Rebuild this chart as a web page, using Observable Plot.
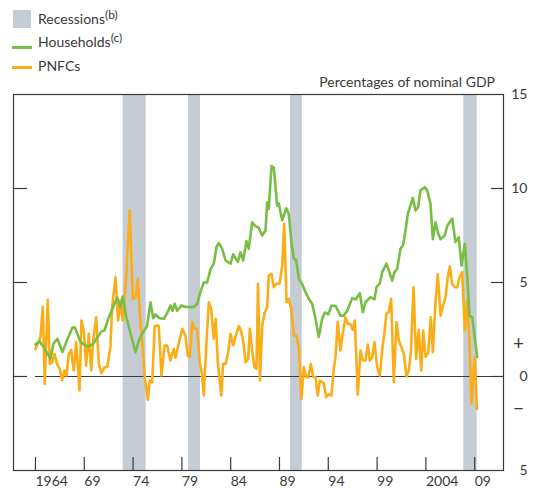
<!DOCTYPE html>
<html><head><meta charset="utf-8">
<script src="https://cdn.jsdelivr.net/npm/d3@7"></script>
<script src="https://cdn.jsdelivr.net/npm/@observablehq/plot@0.6"></script>
<style>
body{margin:0;background:#fff;font-family:Lato,sans-serif;}
#wrap{position:relative;width:533px;height:490px;}
#wrap svg{position:absolute;left:0;top:0;}
.lg{position:absolute;font-size:14px;line-height:16.8px;color:#3a3a3a;white-space:nowrap;}
.lg sup{font-size:12px;vertical-align:5px;line-height:0;}
.sw{position:absolute;}
</style></head><body>
<div id="wrap">
  <div class="sw" style="left:13px;top:10px;width:18px;height:18px;background:#c5ccd3"></div>
  <div class="lg" style="left:38px;top:11px">Recessions<sup>(b)</sup></div>
  <div class="sw" style="left:12px;top:45.5px;width:20px;height:3px;background:#78be43"></div>
  <div class="lg" style="left:38px;top:34px">Households<sup>(c)</sup></div>
  <div class="sw" style="left:12px;top:66px;width:20px;height:3px;background:#fbad18"></div>
  <div class="lg" style="left:38px;top:58px">PNFCs</div>
  <div class="lg" style="right:38px;top:74px">Percentages of nominal GDP</div>
</div>
<script>
const recessionStart = [1972.98, 1979.68, 1990.13, 2007.88];
const recessionEnd   = [1975.34, 1980.90, 1991.33, 2009.25];

const householdYears = [1964.0,1964.41,1964.92,1965.54,1965.84,1966.25,1966.77,1967.28,1967.79,1968.05,1968.61,1969.02,1969.33,1969.84,1970.35,1970.76,1971.07,1971.48,1971.89,1972.37,1972.71,1972.94,1973.29,1973.73,1974.25,1974.58,1974.96,1975.44,1975.78,1976.06,1976.3,1976.7,1977.15,1977.52,1977.83,1978.04,1978.27,1978.52,1978.96,1979.37,1979.88,1980.22,1980.57,1980.9,1981.24,1981.59,1981.93,1982.27,1982.55,1982.78,1983.13,1983.47,1983.98,1984.26,1984.49,1984.73,1985.0,1985.28,1985.62,1985.85,1986.2,1986.54,1986.88,1987.23,1987.57,1987.74,1987.9,1988.18,1988.42,1988.76,1988.93,1989.28,1989.69,1989.95,1990.23,1990.47,1990.71,1990.98,1991.33,1991.66,1992.0,1992.35,1992.69,1993.03,1993.37,1993.64,1993.99,1994.33,1994.75,1995.25,1995.59,1995.94,1996.45,1996.8,1997.23,1997.54,1997.81,1998.32,1998.73,1998.94,1999.28,1999.52,1999.96,2000.55,2000.78,2001.06,2001.4,2001.67,2001.91,2002.15,2002.42,2002.66,2002.93,2003.2,2003.44,2003.89,2004.13,2004.47,2004.71,2004.98,2005.26,2005.5,2005.94,2006.18,2006.7,2007.03,2007.37,2007.65,2007.99,2008.24,2008.47,2008.75,2009.26];
const householdValues = [1.7,1.88,1.5,0.95,1.75,2.0,1.3,2.0,2.6,2.6,1.83,1.7,1.6,1.7,2.1,2.4,2.45,3.1,3.6,4.2,3.7,4.25,3.2,2.3,1.3,1.9,2.3,2.7,3.95,3.1,3.3,3.1,3.07,3.4,3.78,3.5,3.87,3.5,3.78,3.7,3.7,3.7,3.87,4.5,5.0,5.0,5.7,6.0,6.9,7.1,6.8,6.17,6.0,6.5,6.3,6.1,6.6,6.17,7.2,6.8,8.2,8.0,7.9,7.5,7.77,9.27,8.9,11.2,11.1,9.1,9.2,8.3,8.95,8.65,7.1,6.26,6.2,5.2,4.9,4.5,4.13,3.87,3.07,2.1,3.07,3.4,3.3,3.78,3.75,3.24,3.24,3.5,4.17,4.1,4.43,3.42,3.95,4.22,4.1,4.75,4.96,5.55,6.0,5.1,5.55,5.73,6.8,7.0,7.77,8.65,9.1,9.5,8.83,9.0,9.9,10.07,9.9,9.18,7.3,8.2,7.6,7.3,7.5,8.0,8.4,7.15,7.4,5.9,7.06,5.3,3.24,3.15,1.03];

const pnfcYears = [1964.0,1964.24,1964.51,1964.75,1964.95,1965.26,1965.47,1965.71,1965.95,1966.22,1966.49,1966.74,1966.97,1967.18,1967.41,1967.66,1967.92,1968.17,1968.33,1968.51,1968.71,1968.95,1969.19,1969.46,1969.71,1969.91,1970.22,1970.49,1970.76,1971.07,1971.35,1971.68,1971.86,1972.2,1972.47,1972.71,1972.94,1973.29,1973.66,1973.97,1974.25,1974.48,1974.76,1974.99,1975.2,1975.51,1975.71,1975.96,1976.22,1976.63,1976.91,1977.22,1977.49,1977.83,1978.17,1978.34,1978.68,1979.03,1979.37,1979.6,1979.81,1980.06,1980.29,1980.57,1980.83,1981.08,1981.24,1981.52,1981.76,1982.0,1982.27,1982.47,1982.68,1983.03,1983.23,1983.5,1983.74,1983.98,1984.26,1984.49,1984.83,1985.11,1985.34,1985.52,1985.79,1985.96,1986.2,1986.44,1986.64,1986.8,1987.0,1987.23,1987.49,1987.74,1987.9,1988.18,1988.42,1988.66,1989.0,1989.28,1989.48,1989.72,1989.95,1990.23,1990.47,1990.74,1990.98,1991.25,1991.49,1991.74,1991.94,1992.21,1992.45,1992.69,1992.92,1993.13,1993.37,1993.54,1993.78,1994.05,1994.33,1994.56,1994.74,1994.97,1995.25,1995.48,1995.76,1996.0,1996.27,1996.51,1996.72,1997.02,1997.3,1997.54,1997.81,1998.05,1998.25,1998.5,1998.73,1999.01,1999.28,1999.52,1999.76,1999.96,2000.2,2000.44,2000.71,2000.99,2001.22,2001.5,2001.74,2002.01,2002.25,2002.47,2002.73,2003.0,2003.27,2003.52,2003.72,2003.96,2004.24,2004.5,2004.71,2004.98,2005.22,2005.5,2005.77,2006.01,2006.24,2006.45,2006.69,2006.96,2007.21,2007.44,2007.72,2007.99,2008.24,2008.47,2008.67,2008.91,2009.01,2009.22];
const pnfcValues = [1.47,1.74,2.1,3.7,-0.39,4.08,0.67,0.76,1.2,0.67,0.4,-0.2,0.32,0.05,1.2,1.42,0.32,1.83,0.67,-0.74,2.98,2.45,0.58,2.27,0.32,1.9,3.15,0.67,0.18,0.5,0.5,1.56,3.7,5.28,2.98,4.04,2.98,5.28,8.83,4.13,4.2,5.2,2.8,1.56,-0.03,-1.24,-0.21,-0.3,2.7,2.7,0.05,1.65,1.65,0.85,1.47,1.0,1.74,2.54,2.18,1.1,1.03,2.89,2.54,2.54,0.76,0.05,-1.01,1.83,3.95,3.6,2.0,3.07,0.76,-1.01,0.67,0.67,1.3,2.27,1.65,2.1,2.68,2.36,1.65,0.76,0.94,2.54,1.38,0.5,0.41,4.93,-0.21,2.7,3.42,3.69,5.37,5.46,4.75,4.93,4.93,5.9,8.12,3.95,4.13,3.51,2.18,2.18,1.56,-1.19,0.5,-0.03,-0.05,0.67,-0.03,-0.03,-1.01,-0.21,-0.3,-0.35,-1.1,-0.95,-1.01,0.41,1.03,2.89,1.38,2.27,3.15,2.8,2.8,2.48,2.98,-0.96,1.38,0.85,0.85,1.7,0.85,1.03,1.83,0.5,0.05,1.38,2.36,3.37,3.42,4.13,-0.3,2.89,1.92,1.56,1.2,0.0,0.32,1.38,4.75,0.94,2.48,0.32,2.45,1.06,1.24,3.15,1.3,3.87,5.43,3.24,3.78,4.22,5.28,5.85,4.93,4.75,4.75,5.28,5.55,2.45,4.04,1.74,-1.45,0.5,1.03,-1.72];

const xTickYears  = [1964, 1969, 1974, 1979, 1984, 1989, 1994, 1999, 2004, 2009];
const xTickLabels = ["1964", "69", "74", "79", "84", "89", "94", "99", "2004", "09"];
const yTickValues = [15, 10, 5, 0, -5];
const yTickLabels = ["15", "10", "5", "0", "5"];
const signValues  = [1.75, -1.75];
const signLabels  = ["+", "\u2212"];

const households = householdYears.map((y, i) => ({year: y, value: householdValues[i]}));
const pnfcs = pnfcYears.map((y, i) => ({year: y, value: pnfcValues[i]}));
const recessions = recessionStart.map((s, i) => ({start: s, end: recessionEnd[i]}));
const xDomain = [1961.75, 2011.95];
const ink = "#3a3a3a";

const chart = Plot.plot({
  width: 533, height: 490,
  marginTop: 94, marginBottom: 20, marginLeft: 13, marginRight: 30,
  x: {domain: xDomain},
  y: {domain: [-5, 15]},
  style: {fontFamily: "Lato, sans-serif", fontSize: "14px", color: ink, background: "transparent", overflow: "visible"},
  marks: [
    Plot.rect(recessions, {x1: "start", x2: "end", fill: "#c5ccd3"}),
    Plot.ruleY([0], {x1: householdYears[0], x2: xDomain[1], stroke: ink, strokeWidth: 1.2}),
    Plot.line(pnfcs, {x: "year", y: "value", stroke: "#fbad18", strokeWidth: 2.6, strokeLinejoin: "round"}),
    Plot.line(households, {x: "year", y: "value", stroke: "#78be43", strokeWidth: 2.6, strokeLinejoin: "round"}),
    Plot.frame({stroke: ink, strokeWidth: 1.2}),
    Plot.axisY({anchor: "left", ticks: [0, 5, 10], tickSize: 14, dx: 14, tickFormat: () => "", label: null, stroke: ink, strokeWidth: 1.2}),
    Plot.axisY({anchor: "right", ticks: [0, 5, 10], tickSize: 13, dx: -13, tickFormat: () => "", label: null, stroke: ink, strokeWidth: 1.2}),
    Plot.axisX({anchor: "bottom", ticks: xTickYears, tickSize: 13, dy: -13, tickFormat: () => "", label: null, stroke: ink, strokeWidth: 1.2}),
    Plot.text(xTickYears, {x: d => d, text: (d, i) => xTickLabels[i], frameAnchor: "bottom", lineAnchor: "top", textAnchor: "start", dy: 6, fontSize: 14, fill: ink}),
    Plot.text(yTickValues, {y: d => d, text: (d, i) => yTickLabels[i], frameAnchor: "right", textAnchor: "end", lineAnchor: "middle", dx: 24, fontSize: 14, fill: ink}),
    Plot.text(signValues, {y: d => d, text: (d, i) => signLabels[i], frameAnchor: "right", textAnchor: "middle", lineAnchor: "middle", dx: 15, fontSize: 19, fill: ink})
  ]
});
document.getElementById("wrap").prepend(chart);
</script>
</body></html>
